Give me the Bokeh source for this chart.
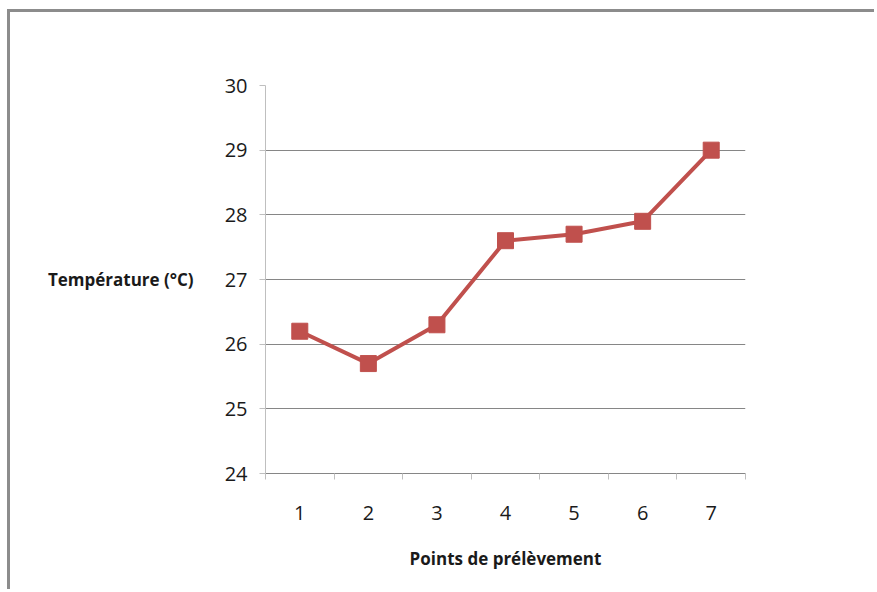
from bokeh.plotting import figure
from bokeh.models import FixedTicker, Range1d
from bokeh.embed import file_html
from bokeh.resources import INLINE

points = [1, 2, 3, 4, 5, 6, 7]
temperature = [26.2, 25.7, 26.3, 27.6, 27.7, 27.9, 29.0]
y_ticks = [24, 25, 26, 27, 28, 29, 30]
x_label = "Points de prélèvement"
y_label = "Température (°C)"

RED = "#C0504D"
FONT = "Open Sans"

p = figure(width=867, height=580, output_backend="svg", toolbar_location=None,
           min_border_left=255, min_border_right=132, min_border_top=73, min_border_bottom=119,
           x_range=Range1d(0.5, 7.5), y_range=Range1d(24, 30))
p.styles = {"border-top": "3px solid #8c8c8c", "border-left": "3px solid #8c8c8c",
            "margin-left": "7px", "margin-top": "9px"}
p.outline_line_color = None
p.background_fill_color = "white"
p.border_fill_color = "white"

p.line(points, temperature, line_color=RED, line_width=4)
p.scatter(points, temperature, marker="square", size=16, fill_color=RED, line_color=RED)

# x axis
p.xaxis.ticker = FixedTicker(ticks=points, minor_ticks=[x - 0.5 for x in points] + [7.5])
p.xaxis.major_tick_out = 0
p.xaxis.major_tick_in = 0
p.xaxis.minor_tick_out = 6
p.xaxis.minor_tick_in = 0
p.xaxis.minor_tick_line_color = "#bfbfbf"
p.xaxis.axis_line_color = "#868686"
p.xaxis.major_label_text_font = FONT
p.xaxis.major_label_text_font_size = "20px"
p.xaxis.major_label_text_color = "#1a1a1a"
p.xaxis.major_label_standoff = 26
p.xaxis.axis_label = x_label
p.xaxis.axis_label_text_font = FONT
p.xaxis.axis_label_text_font_size = "17px"
p.xaxis.axis_label_text_font_style = "bold"
p.xaxis.axis_label_text_color = "#1a1a1a"
p.xaxis.axis_label_standoff = 24

# y axis
p.yaxis.ticker = FixedTicker(ticks=y_ticks, minor_ticks=[])
p.yaxis.major_tick_out = 6
p.yaxis.major_tick_in = 0
p.yaxis.major_tick_line_color = "#bfbfbf"
p.yaxis.axis_line_color = "#bfbfbf"
p.yaxis.major_label_text_font = FONT
p.yaxis.major_label_text_font_size = "20px"
p.yaxis.major_label_text_color = "#1a1a1a"
p.yaxis.major_label_standoff = 12
p.yaxis.axis_label = y_label
p.yaxis.axis_label_orientation = "horizontal"
p.yaxis.axis_label_text_font = FONT
p.yaxis.axis_label_text_font_size = "17px"
p.yaxis.axis_label_text_font_style = "bold"
p.yaxis.axis_label_text_color = "#1a1a1a"
p.yaxis.axis_label_text_baseline = "top"
p.yaxis.axis_label_standoff = 28

p.xgrid.visible = False
p.ygrid.grid_line_color = "#868686"
p.ygrid.grid_line_width = 1

open("out.html", "w").write(file_html(p, INLINE))
